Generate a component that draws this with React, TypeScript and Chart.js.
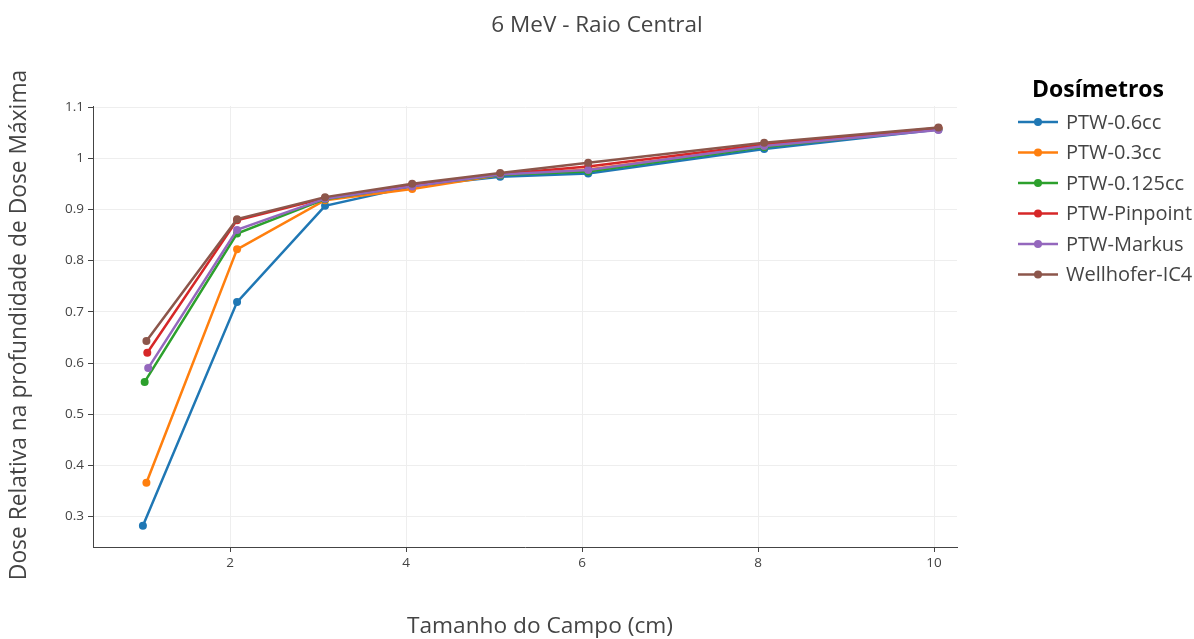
import { useEffect, useRef } from "react";
import { Chart, registerables } from "chart.js";

Chart.register(...registerables);

const chartTitle = "6 MeV - Raio Central";
const xAxisTitle = "Tamanho do Campo (cm)";
const yAxisTitle = "Dose Relativa na profundidade de Dose Máxima";
const legendTitle = "Dosímetros";

const seriesNames = ["PTW-0.6cc", "PTW-0.3cc", "PTW-0.125cc", "PTW-Pinpoint", "PTW-Markus", "Wellhofer-IC4"];
const seriesColors = ["#1f77b4", "#ff7f0e", "#2ca02c", "#d62728", "#9467bd", "#8c564b"];

// Field sizes (cm); the smallest field differs slightly between dosimeters
const smallestField = [1.01, 1.05, 1.03, 1.06, 1.07, 1.05];
const fieldSizes = [2.08, 3.08, 4.07, 5.07, 6.07, 8.07, 10.05];

// Relative dose at depth of maximum dose
const ptw06 = [0.282, 0.719, 0.907, 0.945, 0.964, 0.970, 1.018, 1.056];
const ptw03 = [0.366, 0.822, 0.918, 0.940, 0.967, 0.978, 1.023, 1.058];
const ptw0125 = [0.563, 0.853, 0.920, 0.946, 0.967, 0.974, 1.022, 1.057];
const ptwPinpoint = [0.620, 0.879, 0.922, 0.948, 0.969, 0.984, 1.027, 1.059];
const ptwMarkus = [0.590, 0.860, 0.921, 0.945, 0.968, 0.977, 1.024, 1.055];
const wellhoferIC4 = [0.643, 0.881, 0.924, 0.950, 0.971, 0.991, 1.030, 1.060];

const seriesValues = [ptw06, ptw03, ptw0125, ptwPinpoint, ptwMarkus, wellhoferIC4];

const xTicks = [2, 4, 6, 8, 10];
const yTicks = [0.3, 0.4, 0.5, 0.6, 0.7, 0.8, 0.9, 1, 1.1];

const FONT = "'Open Sans', 'Noto Sans', sans-serif";
const TEXT = "#444";

const textPlugin = {
  id: "textPlugin",
  afterDraw(chart: any) {
    const ctx = chart.ctx as CanvasRenderingContext2D;
    ctx.save();
    ctx.fillStyle = TEXT;
    ctx.textAlign = "center";
    ctx.textBaseline = "middle";
    ctx.font = `22.5px ${FONT}`;
    ctx.fillText(chartTitle, 597, 26);

    ctx.font = `22.7px ${FONT}`;
    ctx.fillText(xAxisTitle, 540, 627);

    ctx.save();
    ctx.translate(20, 325);
    ctx.rotate(-Math.PI / 2);
    ctx.font = `22.8px ${FONT}`;
    ctx.fillText(yAxisTitle, 0, 0);
    ctx.restore();

    // legend
    ctx.fillStyle = "#000";
    ctx.font = `bold 23px ${FONT}`;
    ctx.fillText(legendTitle, 1098, 90);

    ctx.textAlign = "left";
    ctx.font = `20px ${FONT}`;
    chart.data.datasets.forEach((ds: any, i: number) => {
      const y = 122 + i * 30.5;
      ctx.strokeStyle = ds.borderColor;
      ctx.lineWidth = 2.5;
      ctx.beginPath();
      ctx.moveTo(1018, y);
      ctx.lineTo(1058, y);
      ctx.stroke();
      ctx.fillStyle = ds.borderColor;
      ctx.beginPath();
      ctx.arc(1038, y, 4, 0, Math.PI * 2);
      ctx.fill();
      ctx.fillStyle = TEXT;
      ctx.fillText(ds.label, 1066, y + 1);
    });
    ctx.restore();
  },
};

export default function App() {
  const canvasRef = useRef<HTMLCanvasElement | null>(null);

  useEffect(() => {
    const canvas = canvasRef.current;
    if (!canvas) return;
    const datasets = seriesNames.map((name, i) => ({
      label: name,
      data: seriesValues[i].map((v, j) => ({ x: j === 0 ? smallestField[i] : fieldSizes[j - 1], y: v })),
      borderColor: seriesColors[i],
      backgroundColor: seriesColors[i],
      borderWidth: 2.5,
      pointRadius: 4,
      pointHoverRadius: 4,
      pointBorderWidth: 0,
      tension: 0,
      order: seriesNames.length - i,
    }));

    const chart = new Chart(canvas, {
      type: "line",
      data: { datasets },
      plugins: [textPlugin],
      options: {
        responsive: false,
        animation: false,
        layout: { padding: { top: 106, right: 237, left: 0, bottom: 0 } },
        plugins: { legend: { display: false }, title: { display: false }, tooltip: { enabled: false } },
        scales: {
          x: {
            type: "linear",
            min: 0.443,
            max: 10.261,
            afterFit: (s: any) => { s.height = 92; },
            afterBuildTicks: (s: any) => { s.ticks = xTicks.map((v) => ({ value: v })); },
            grid: { color: "#eee", lineWidth: 1, tickColor: "#444", tickLength: 5, drawTicks: true },
            border: { color: "#444", width: 1 },
            ticks: { color: TEXT, font: { family: FONT, size: 13.5 }, padding: 3, maxRotation: 0, callback: (v: any) => String(v) },
          },
          y: {
            type: "linear",
            min: 0.2406,
            max: 1.102,
            afterFit: (s: any) => { s.width = 93; },
            afterBuildTicks: (s: any) => { s.ticks = yTicks.map((v) => ({ value: v })); },
            grid: { color: "#eee", lineWidth: 1, tickColor: "#444", tickLength: 5, drawTicks: true },
            border: { color: "#444", width: 1 },
            ticks: { color: TEXT, font: { family: FONT, size: 13.5 }, padding: 4, callback: (v: any) => String(Math.round(v * 10) / 10) },
          },
        },
      },
    });
    return () => chart.destroy();
  }, []);

  return (
    <div style={{ position: "absolute", left: 0, top: 0, width: 1194, height: 639, background: "#fff" }}>
      <canvas ref={canvasRef} width={1194} height={639} style={{ display: "block" }} />
    </div>
  );
}
